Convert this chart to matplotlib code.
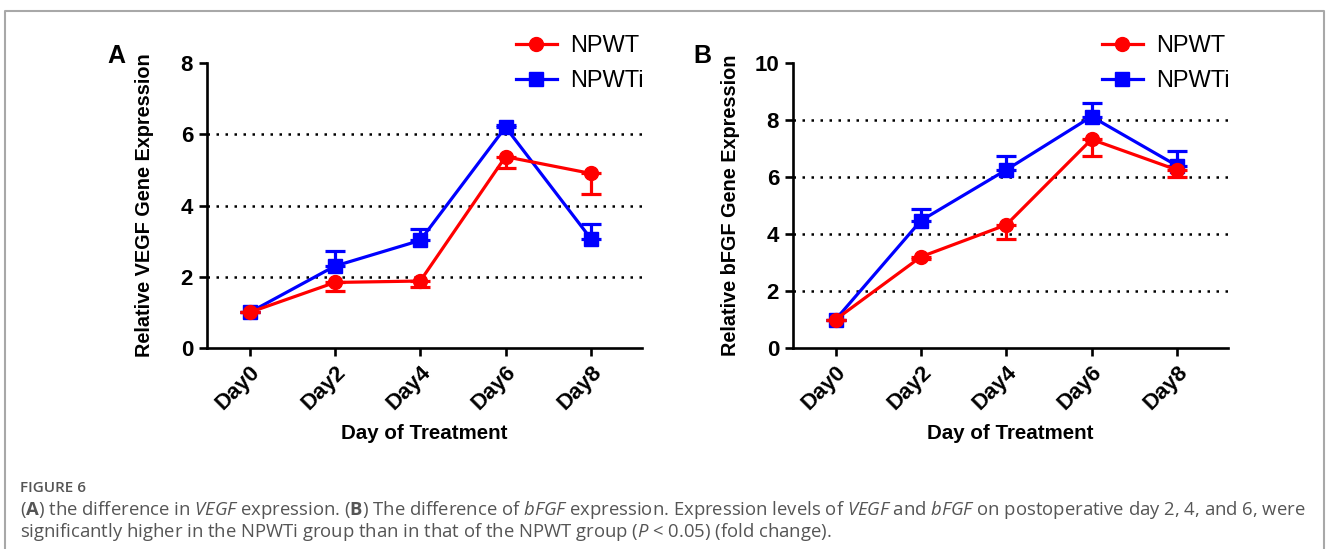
import matplotlib
matplotlib.use("Agg")
import matplotlib.pyplot as plt
from matplotlib.lines import Line2D

plt.rcParams['font.family'] = ['Liberation Sans', 'DejaVu Sans']
plt.rcParams['mathtext.fontset'] = 'custom'
plt.rcParams['mathtext.rm'] = 'Open Sans'
plt.rcParams['mathtext.it'] = 'Open Sans:italic'
plt.rcParams['mathtext.bf'] = 'Open Sans:bold'

days = ['Day0', 'Day2', 'Day4', 'Day6', 'Day8']

# panel A - VEGF
vegf_npwt = [1.0, 1.84, 1.88, 5.37, 4.90]
vegf_npwt_err = [0.0, 0.25, 0.17, 0.32, 0.58]
vegf_npwti = [1.0, 2.30, 3.02, 6.20, 3.07]
vegf_npwti_err = [0.0, 0.42, 0.33, 0.05, 0.42]

# panel B - bFGF
bfgf_npwt = [1.0, 3.20, 4.32, 7.32, 6.25]
bfgf_npwt_err = [0.0, 0.08, 0.50, 0.58, 0.25]
bfgf_npwti = [1.0, 4.47, 6.25, 8.12, 6.40]
bfgf_npwti_err = [0.0, 0.40, 0.50, 0.48, 0.50]

RED = '#ff0000'
BLUE = '#0000ff'

fig = plt.figure(figsize=(13.28, 5.49), dpi=100)

# grey frame round the figure
fw, fh = 1328.0, 549.0
frame = [(4.5 / fw, 0), (4.5 / fw, 1 - 11 / fh), (1323.5 / fw, 1 - 11 / fh), (1323.5 / fw, 0)]
fig.add_artist(Line2D([p[0] for p in frame], [p[1] for p in frame],
                      color='#a8a8a8', lw=1.5, transform=fig.transFigure))


def draw_panel(rect, letter, ylabel, ymax, red_vals, red_err, blue_vals, blue_err, grid):
    ax = fig.add_axes(rect)
    x = list(range(len(days)))
    for g in grid:
        ax.axhline(g, color='black', lw=1.8, ls=(0, (1, 2.6)), zorder=1)
    zeros = [0] * len(x)
    hb = ax.errorbar(x, blue_vals, yerr=[zeros, blue_err], color=BLUE, lw=2.3,
                     marker='s', ms=10, capsize=7, capthick=2.3, elinewidth=2.3,
                     label='NPWTi', zorder=3)
    hr = ax.errorbar(x, red_vals, yerr=[red_err, zeros], color=RED, lw=2.3,
                     marker='o', ms=10, capsize=7, capthick=2.3, elinewidth=2.3,
                     label='NPWT', zorder=4)
    ax.set_xlim(-0.5, 4.6)
    ax.set_ylim(0, ymax)
    ax.set_yticks(range(0, ymax + 1, 2))
    ax.set_xticks(x)
    ax.set_xticklabels(days, rotation=45, ha='right', rotation_mode='anchor',
                       fontsize=16, fontweight='bold')
    for lab in ax.get_yticklabels():
        lab.set_fontsize(16)
        lab.set_fontweight('bold')
    for s in ['top', 'right']:
        ax.spines[s].set_visible(False)
    for s in ['left', 'bottom']:
        ax.spines[s].set_linewidth(1.9)
    ax.tick_params(width=1.9, length=6, pad=4)
    ax.set_ylabel(ylabel, fontsize=14.3, fontweight='bold', va='center')
    ax.yaxis.set_label_coords(-0.143, 0.5)
    ax.set_xlabel('Day of Treatment', fontsize=14.8, fontweight='bold', labelpad=7)
    ax.legend(handles=[hr[0], hb[0]], labels=['NPWT', 'NPWTi'],
              loc='upper left', bbox_to_anchor=(0.688, 1.13), frameon=False,
              fontsize=17, handlelength=1.75, handletextpad=0.55,
              labelspacing=0.55, borderaxespad=0)
    ax.text(-0.228, 1.025, letter, transform=ax.transAxes, fontsize=18,
            fontweight='bold', ha='left', va='center')
    return ax


draw_panel([207 / fw, 1 - 348 / fh, 435 / fw, 285 / fh], 'A',
           'Relative VEGF Gene Expression', 8,
           vegf_npwt, vegf_npwt_err, vegf_npwti, vegf_npwti_err, [2, 4, 6])
draw_panel([793 / fw, 1 - 348 / fh, 435 / fw, 285 / fh], 'B',
           'Relative bFGF Gene Expression', 10,
           bfgf_npwt, bfgf_npwt_err, bfgf_npwti, bfgf_npwti_err, [2, 4, 6, 8])

cap_color = '#555555'
fig.text(20 / fw, 1 - 488 / fh, 'FIGURE 6', fontsize=11, color=cap_color,
         family='Open Sans', fontweight='semibold', va='center', ha='left')
line1 = (r'($\mathbf{A}$) the difference in $\mathit{VEGF}$ expression. '
         r'($\mathbf{B}$) The difference of $\mathit{bFGF}$ expression. '
         r'Expression levels of $\mathit{VEGF}$ and $\mathit{bFGF}$ on postoperative day 2, 4, and 6, were')
line2 = (r'significantly higher in the NPWTi group than in that of the NPWT group '
         r'($\mathit{P}$ < 0.05) (fold change).')
fig.text(20 / fw, 1 - 510 / fh, line1, fontsize=13.3, color=cap_color,
         family='Open Sans', va='center', ha='left')
fig.text(20 / fw, 1 - 532 / fh, line2, fontsize=13.3, color=cap_color,
         family='Open Sans', va='center', ha='left')

fig.savefig('out.png', dpi=100)
